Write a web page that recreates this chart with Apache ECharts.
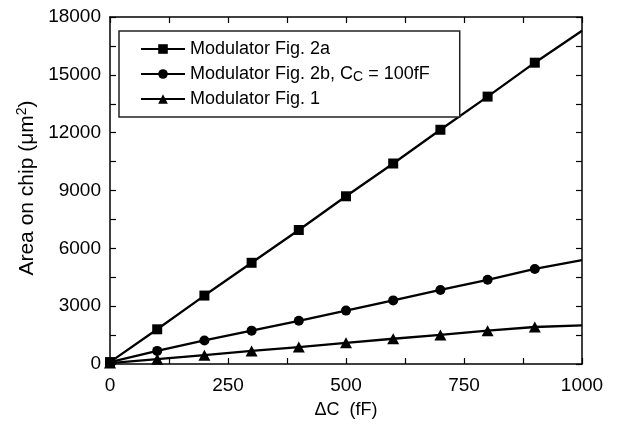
<!DOCTYPE html>
<html>
<head>
<meta charset="utf-8">
<script src="https://cdn.jsdelivr.net/npm/echarts@6/dist/echarts.min.js"></script>
<style>html,body{margin:0;padding:0;background:#fff;}#c{width:617px;height:424px;}</style>
</head>
<body>
<div id="c"></div>
<script>
// Data
var deltaC = [0, 100, 200, 300, 400, 500, 600, 700, 800, 900];
var fig2a = [100, 1800, 3550, 5250, 6950, 8700, 10400, 12150, 13870, 15630];
var fig2b = [100, 680, 1220, 1730, 2240, 2770, 3300, 3840, 4370, 4930];
var fig1 = [50, 250, 460, 680, 880, 1100, 1310, 1510, 1730, 1920];
// fitted line end values at deltaC = 1000
var lineEndX = 1000;
var fig2aEnd = 17290;
var fig2bEnd = 5390;
var fig1End = 2000;
var seriesNames = ['Modulator Fig. 2a', 'Modulator Fig. 2b, C_C = 100fF', 'Modulator Fig. 1'];
var xTicks = [0, 250, 500, 750, 1000];
var yTicks = [0, 3000, 6000, 9000, 12000, 15000, 18000];

var FONT = 'Liberation Sans, Arial, Helvetica, sans-serif';

function buildData(vals, endVal) {
  var d = deltaC.map(function (x, i) { return [x, vals[i]]; });
  d.push({ value: [lineEndX, endVal], symbol: 'none' });
  return d;
}

var chart = echarts.init(document.getElementById('c'), null, { renderer: 'canvas' });

var tickStyle = { color: '#000', width: 1.2 };
var xRange = { min: xTicks[0], max: xTicks[xTicks.length - 1], interval: 250 };
var yRange = { min: yTicks[0], max: yTicks[yTicks.length - 1], interval: 3000 };

function ax(o) {
  return Object.assign({
    type: 'value',
    axisLine: { show: true, onZero: false, lineStyle: { color: '#000', width: 1.5 } },
    axisTick: { show: true, inside: true, length: 6, lineStyle: tickStyle },
    minorTick: { show: true, splitNumber: 2, length: 6, lineStyle: tickStyle },
    splitLine: { show: false },
    minorSplitLine: { show: false },
    axisLabel: { show: false }
  }, o);
}

var option = {
  animation: false,
  backgroundColor: '#fff',
  textStyle: { fontFamily: FONT },
  grid: { left: 110, right: 35, top: 17, bottom: 54 },
  xAxis: [
    ax(Object.assign({
      position: 'bottom',
      name: 'ΔC  (fF)', nameLocation: 'middle', nameGap: 37,
      nameTextStyle: { fontSize: 18, color: '#000', fontFamily: FONT },
      axisLabel: { show: true, fontSize: 19, color: '#000', fontFamily: FONT, margin: 12,
        formatter: function (v) { return xTicks.indexOf(v) >= 0 ? String(v) : ''; } }
    }, xRange)),
    ax(Object.assign({ position: 'top' }, xRange))
  ],
  yAxis: [
    ax(Object.assign({
      position: 'left',
      axisLabel: { show: true, fontSize: 19, color: '#000', fontFamily: FONT, margin: 9,
        formatter: function (v) { return yTicks.indexOf(v) >= 0 ? String(v) : ''; } }
    }, yRange)),
    ax(Object.assign({ position: 'right' }, yRange))
  ],
  legend: {
    orient: 'vertical',
    left: 119, top: 31,
    padding: [9, 30, 9, 21],
    itemGap: 6,
    itemWidth: 44,
    itemHeight: 12,
    borderColor: '#222',
    borderWidth: 1.5,
    borderRadius: 0,
    backgroundColor: '#fff',
    data: seriesNames,
    formatter: function (name) {
      if (name.indexOf('C_C') >= 0) {
        return '{t|Modulator Fig. 2b, C}{s|C}{t| = 100fF}';
      }
      return '{t|' + name + '}';
    },
    textStyle: {
      color: '#000', fontSize: 18, fontFamily: FONT,
      rich: {
        t: { fontSize: 18, fontFamily: FONT, color: '#000', lineHeight: 20 },
        s: { fontSize: 14, fontFamily: FONT, color: '#000', lineHeight: 14, padding: [6, 0, 0, 0] }
      }
    }
  },
  graphic: [{
    type: 'text',
    x: 27, y: 188,
    rotation: Math.PI / 2,
    style: {
      text: '{t|Area on chip (μm}{p|2}{t|)}',
      align: 'center', verticalAlign: 'middle',
      fill: '#000',
      rich: {
        t: { fontSize: 21, fontFamily: FONT, fill: '#000' },
        p: { fontSize: 14, fontFamily: FONT, fill: '#000', padding: [0, 0, 10, 0] }
      }
    }
  }],
  series: [
    {
      name: seriesNames[0], type: 'line', data: buildData(fig2a, fig2aEnd),
      symbol: 'rect', symbolSize: 10,
      lineStyle: { color: '#000', width: 2.3 }, itemStyle: { color: '#000' },
      xAxisIndex: 0, yAxisIndex: 0, z: 3
    },
    {
      name: seriesNames[1], type: 'line', data: buildData(fig2b, fig2bEnd),
      symbol: 'circle', symbolSize: 10,
      lineStyle: { color: '#000', width: 2.3 }, itemStyle: { color: '#000' },
      xAxisIndex: 0, yAxisIndex: 0, z: 3
    },
    {
      name: seriesNames[2], type: 'line', data: buildData(fig1, fig1End),
      symbol: 'triangle', symbolSize: [12, 11],
      lineStyle: { color: '#000', width: 2.3 }, itemStyle: { color: '#000' },
      xAxisIndex: 0, yAxisIndex: 0, z: 3
    }
  ]
};

chart.setOption(option);
</script>
</body>
</html>
